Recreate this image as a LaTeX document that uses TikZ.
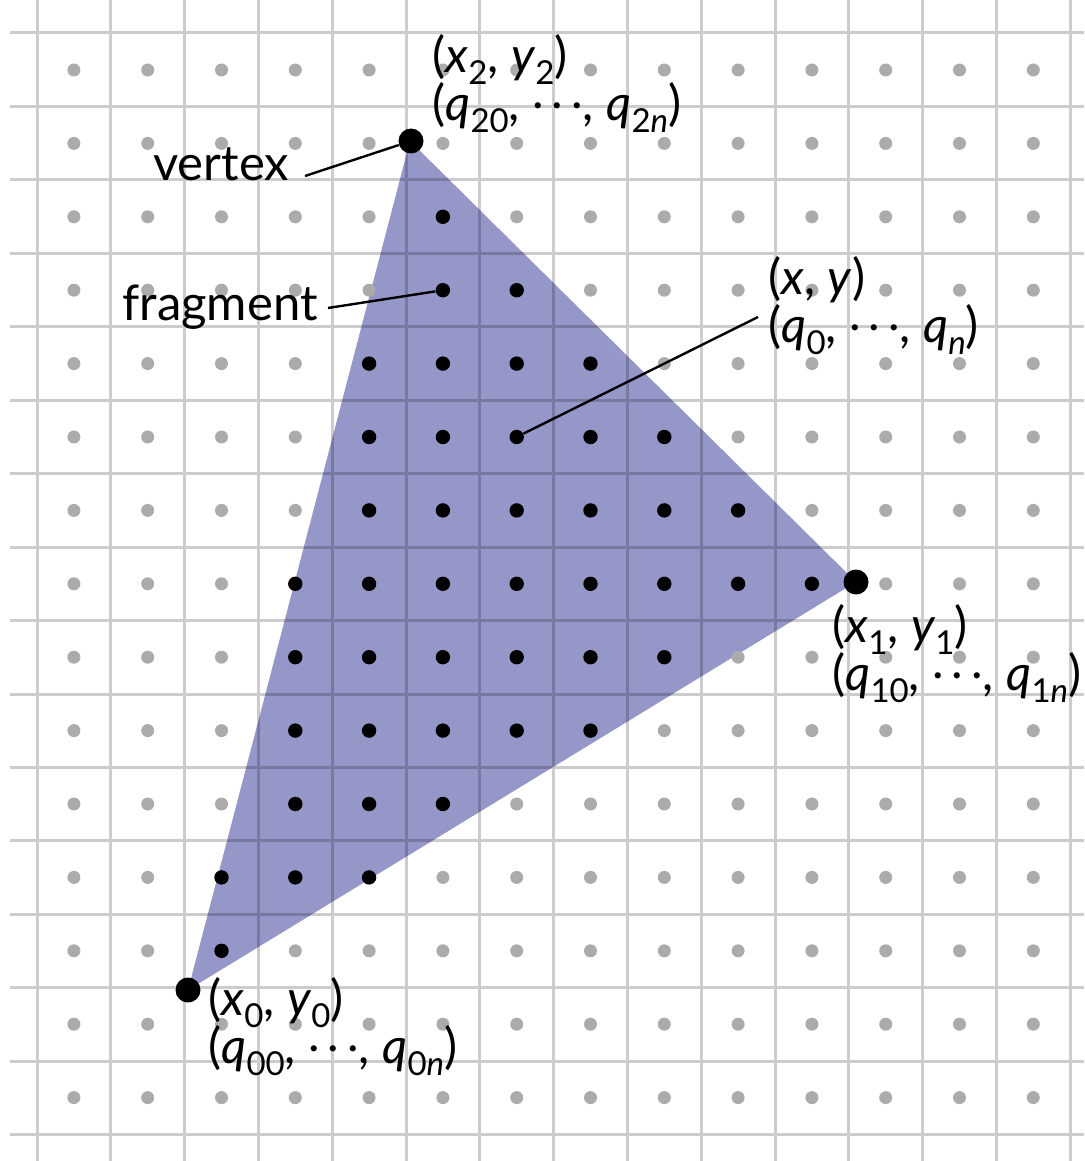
\documentclass[tikz,border=0pt]{standalone}
\usepackage{fontspec}
\setmainfont{Lato}
\definecolor{trifill}{RGB}{150,151,201}
\newcommand\lo[1]{\raisebox{-0.25em}{\fontsize{16.5}{16.5}\selectfont #1}}
\newcommand\mdots{\raisebox{0.24em}{.\hspace{0.16em}.\hspace{0.16em}.}}
\newcommand\labelfont{\fontsize{24.5}{23.8}\selectfont\lineskiplimit=-50pt\relax\lineskip=0pt\relax}
\begin{document}
\begin{tikzpicture}[x=0.5pt,y=-0.5pt,
  lbl/.style={anchor=base west, inner sep=0pt, font=\fontsize{24.5}{26}\selectfont},
  lbl2/.style={anchor=base west, inner sep=0pt, align=left, font=\labelfont},
  vdot/.style={circle, fill=black, inner sep=0pt, minimum size=12.5pt},
  fdot/.style={circle, fill=black, inner sep=0pt, minimum size=7.2pt},
  gdot/.style={circle, fill=black!33, inner sep=0pt, minimum size=6.5pt},
  leader/.style={draw=black, line width=1.2pt},
  gridline/.style={draw=black, draw opacity=0.2, line width=1.5pt}]
\useasboundingbox (0,0) rectangle (1084,1161);
\clip (0,0) rectangle (1084,1161);
\fill[white] (0,0) rectangle (1084,1161);
% triangle
\fill[trifill] (410,141) -- (856,582) -- (188,990) -- cycle;
% grid
\path[gridline]
  \foreach \k in {0,...,14} { ({37+73.8*\k},0) -- ({37+73.8*\k},1161) }
  \foreach \j in {0,...,15} { (10,{33+73.45*\j}) -- (1084,{33+73.45*\j}) };
% grey sample dots
\foreach \r in {0,...,14}
  \foreach \c in {0,...,13}
    \node[gdot] (g-\r-\c) at ({73.9+73.8*\c},{70+73.4*\r}) {};
% fragments
\foreach \r/\a/\b in {2/5/5,3/5/6,4/4/7,5/4/8,6/4/9,7/3/10,8/3/8,9/3/7,10/3/5,11/2/4,12/2/2}
  \foreach \c in {\a,...,\b}
    \node[fdot] (f-\r-\c) at ({73.9+73.8*\c},{70+73.4*\r}) {};
% vertices
\node[vdot] (v2) at (411,141) {};
\node[vdot] (v1) at (856,582) {};
\node[vdot] (v0) at (188,990) {};
% labels (anchored at the baseline of their second line)
\node[lbl2] (l2) at (432,120) {(\textit{x}\lo{2}, \textit{y}\lo{2})\\(\textit{q}\lo{20}, \mdots, \textit{q}\lo{2\textit{n}})};
\node[lbl2] (lxy) at (768,342) {(\textit{x}, \textit{y})\\(\textit{q}\lo{0}, \mdots, \textit{q}\lo{\textit{n}})};
\node[lbl2] (l1) at (832,690) {(\textit{x}\lo{1}, \textit{y}\lo{1})\\(\textit{q}\lo{10}, \mdots, \textit{q}\lo{1\textit{n}})};
\node[lbl2] (l0) at (208,1063) {(\textit{x}\lo{0}, \textit{y}\lo{0})\\(\textit{q}\lo{00}, \mdots, \textit{q}\lo{0\textit{n}})};
\node[lbl] (vertexlbl) at (153,180) {vertex};
\node[lbl] (fraglbl) at (122,320) {fragment};
% leaders
\coordinate (vend) at (305,176);
\coordinate (fend) at (328,308);
\coordinate (xyend) at (758,317);
\draw[leader] (vend) -- (v2);
\draw[leader] (fend) -- (f-3-5);
\draw[leader] (f-5-6) -- (xyend);
\end{tikzpicture}
\end{document}
